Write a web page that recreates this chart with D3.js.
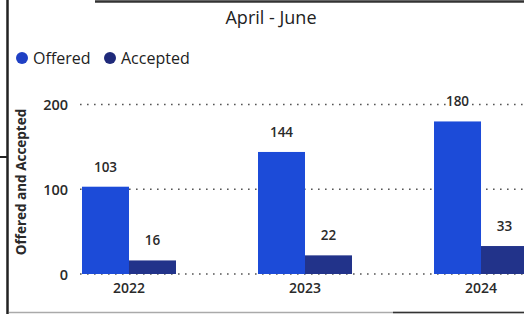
<!DOCTYPE html>
<html><head><meta charset="utf-8">
<script src="https://cdn.jsdelivr.net/npm/d3@7"></script>
<style>body{margin:0;background:#fff}svg{display:block}</style>
</head><body>
<svg id="c" width="524" height="314"></svg>
<script>
const years = ["2022", "2023", "2024"];
const offered = [103, 144, 180];
const accepted = [16, 22, 33];
const seriesNames = ["Offered", "Accepted"];
const yTicks = [0, 100, 200];
const colors = ["#1c4bd8", "#22338a"];
const legendColors = ["#1f40c4", "#1f2a7a"];

const svg = d3.select("#c");
const font = "'Open Sans', 'Noto Sans', sans-serif";

// frame lines (scan borders)
svg.append("line").attr("x1", 7.5).attr("x2", 7.5).attr("y1", 0).attr("y2", 314).attr("stroke", "#222").attr("stroke-width", 2.5);
svg.append("line").attr("x1", 0).attr("x2", 7).attr("y1", 157).attr("y2", 157).attr("stroke", "#222").attr("stroke-width", 2);
svg.append("line").attr("x1", 95).attr("x2", 524).attr("y1", 1.5).attr("y2", 1.5).attr("stroke", "#333").attr("stroke-width", 2.5);
svg.append("line").attr("x1", 9).attr("x2", 524).attr("y1", 312.5).attr("y2", 312.5).attr("stroke", "#aaa").attr("stroke-width", 1.5);
svg.append("line").attr("x1", 393).attr("x2", 524).attr("y1", 312.5).attr("y2", 312.5).attr("stroke", "#333").attr("stroke-width", 1.5);

const x = d3.scaleBand().domain(years).range([82, 528]).paddingInner(0.466).paddingOuter(0);
const xs = d3.scaleBand().domain(seriesNames).range([0, x.bandwidth()]);
const y = d3.scaleLinear().domain([0, 200]).range([274, 104.5]);

// gridlines
svg.append("g").selectAll("line").data(yTicks).join("line")
  .attr("x1", 80).attr("x2", 524)
  .attr("y1", d => y(d)).attr("y2", d => y(d))
  .attr("stroke", "#555").attr("stroke-width", 1.6)
  .attr("stroke-dasharray", "1.6 5.4");

// y axis
const yAxis = svg.append("g").attr("transform", "translate(68,0)")
  .call(d3.axisLeft(y).tickValues(yTicks).tickSize(0).tickPadding(0));
yAxis.select(".domain").remove();
yAxis.selectAll("text").attr("font-family", font).attr("font-size", 14.5).attr("font-weight", 600).attr("fill", "#2a2a2a").attr("dy", "0.35em");

// y title
svg.append("text").attr("transform", "translate(26,182) rotate(-90)")
  .attr("text-anchor", "middle").attr("font-family", font).attr("font-size", 13.5).attr("font-weight", 700).attr("fill", "#2a2a2a")
  .text("Offered and Accepted");

// x axis
const xAxis = svg.append("g").attr("transform", "translate(0,283)")
  .call(d3.axisBottom(x).tickSize(0).tickPadding(0));
xAxis.select(".domain").remove();
xAxis.selectAll("text").attr("font-family", font).attr("font-size", 14).attr("font-weight", 600).attr("fill", "#2a2a2a").attr("dy", "0.71em");

// bars
const data = years.map((yr, i) => ({ year: yr, vals: [offered[i], accepted[i]] }));
const groups = svg.append("g").selectAll("g").data(data).join("g")
  .attr("transform", d => `translate(${x(d.year)},0)`);
groups.selectAll("rect").data(d => d.vals.map((v, j) => ({ v, s: seriesNames[j], j }))).join("rect")
  .attr("x", d => xs(d.s)).attr("width", xs.bandwidth())
  .attr("y", d => y(d.v)).attr("height", d => y(0) - y(d.v))
  .attr("fill", d => colors[d.j]);
groups.selectAll("text").data(d => d.vals.map((v, j) => ({ v, s: seriesNames[j], j }))).join("text")
  .attr("x", d => xs(d.s) + xs.bandwidth() / 2).attr("y", d => y(d.v) - 15)
  .attr("text-anchor", "middle").attr("font-family", font).attr("font-size", 13.5).attr("font-weight", 600).attr("fill", "#2a2a2a")
  .attr("stroke", "#fff").attr("stroke-width", 4).attr("paint-order", "stroke")
  .text(d => d.v);

// title
svg.append("text").attr("x", 271).attr("y", 24).attr("text-anchor", "middle")
  .attr("font-family", font).attr("font-size", 18).attr("font-weight", 500).attr("fill", "#222").text("April - June");

// legend
const lg = svg.append("g").attr("transform", "translate(0,58)");
const lx = [22, 110];
seriesNames.forEach((n, i) => {
  lg.append("circle").attr("cx", lx[i]).attr("cy", 0).attr("r", 6).attr("fill", legendColors[i]);
  lg.append("text").attr("x", lx[i] + 11).attr("y", 0).attr("dy", "0.35em")
    .attr("font-family", font).attr("font-size", 16).attr("font-weight", 500).attr("fill", "#222").text(n);
});
</script>
</body></html>
